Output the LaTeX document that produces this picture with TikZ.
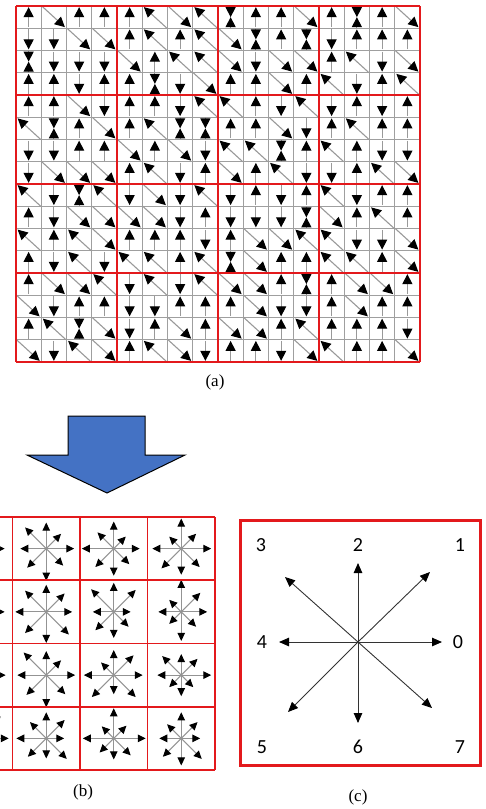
\documentclass[tikz,border=0pt]{standalone}
\usepackage{fontspec}
\setmainfont{Liberation Serif}
\newfontfamily\digitfont{Carlito}
\usetikzlibrary{arrows.meta,positioning}
\definecolor{hogred}{HTML}{E3191C}
\definecolor{hogblue}{HTML}{4472C4}

\tikzset{
  grad/.style={draw=gray!80, line width=1.1pt, -{Triangle[length=10pt,width=10pt,color=black]}},
  bin/.style={draw=gray!85, line width=1pt, -{Triangle[length=8pt,width=7.5pt,color=black]}},
  dir/.style={draw=black!80, line width=0.9pt, -{Triangle[length=10pt,width=8.5pt,color=black]}},
  cellline/.style={draw=gray!75, line width=0.8pt},
  blockline/.style={draw=hogred, line width=1.6pt},
  caption/.style={font=\fontsize{17}{20}\selectfont},
  binlabel/.style={font=\digitfont\fontsize{20}{24}\selectfont},
}

\begin{document}
\begin{tikzpicture}[x=1pt,y=-1pt]
  \useasboundingbox (0,0) rectangle (486,809);

  % (a) gradients of the cells
  \foreach \i in {0,...,16}{
    \draw[cellline] ({16+25.25*\i},6) -- ({16+25.25*\i},362);
    \draw[cellline] (16,{6+22.25*\i}) -- (420,{6+22.25*\i});
  }
  \pgfmathsetseed{11}
  \foreach \i in {0,...,15}{
    \foreach \j in {0,...,15}{
      \pgfmathsetmacro{\cx}{16+25.25*(\i+0.5)}
      \pgfmathsetmacro{\cy}{6+22.25*(\j+0.5)}
      \pgfmathrandominteger{\k}{0}{9}
      \ifnum\k<3 \draw[grad] (\cx,\cy+10) -- (\cx,\cy-10);
      \else\ifnum\k<5 \draw[grad] (\cx,\cy-10) -- (\cx,\cy+10);
      \else\ifnum\k<7 \draw[grad] (\cx+12,\cy+11) -- (\cx-11,\cy-10);
      \else\ifnum\k<9 \draw[grad] (\cx-12,\cy-11) -- (\cx+11,\cy+10);
      \else
        \draw[grad] (\cx,\cy-11) -- (\cx,\cy);
        \draw[grad] (\cx,\cy+11) -- (\cx,\cy);
      \fi\fi\fi\fi
    }
  }
  \foreach \i in {0,...,4}{
    \draw[blockline] ({16+101*\i},6) -- ({16+101*\i},362);
    \draw[blockline] (16,{6+89*\i}) -- (420,{6+89*\i});
  }
  \node[caption] (capa) at (215,382) {(a)};

  % big arrow
  \draw[fill=hogblue, line width=1pt] (68,416) -- (145,416) -- (145,455) -- (185,455)
    -- (107,493) -- (27,455) -- (68,455) -- cycle;

  % (b) histograms
  \begin{scope}
    \clip (0,505) rectangle (216.5,780);
    \pgfmathsetseed{5}
    \foreach \i in {-1,...,2}{
      \foreach \j in {0,...,3}{
        \pgfmathsetmacro{\cx}{12.5+67.5*(\i+0.5)}
        \pgfmathsetmacro{\cy}{517+63.25*(\j+0.5)}
        \foreach \a in {0,45,...,315}{
          \pgfmathrandominteger{\L}{17}{32}
          \draw[bin] (\cx,\cy) -- ++(\a:\L);
        }
      }
    }
    \foreach \i in {-1,...,3}
      \draw[blockline] ({12.5+67.5*\i},517) -- ({12.5+67.5*\i},770);
    \foreach \j in {0,...,4}
      \draw[blockline] (-60,{517+63.25*\j}) -- (215,{517+63.25*\j});
  \end{scope}
  \node[caption] (capb) at (83,792) {(b)};

  % (c) the eight bins
  \draw[draw=hogred, line width=3pt] (240,520) rectangle (480,765);
  \coordinate (o) at (358,642);
  \coordinate (t0) at (442,642);
  \coordinate (t1) at (430,572);
  \coordinate (t2) at (358,563);
  \coordinate (t3) at (285,577);
  \coordinate (t4) at (279,642);
  \coordinate (t5) at (288,712);
  \coordinate (t6) at (358,723);
  \coordinate (t7) at (432,708);
  \foreach \n in {0,...,7}
    \draw[dir] (o) -- (t\n);
  \node[binlabel] (l0) at (458,642) {0};
  \node[binlabel] (l1) at (460,545) {1};
  \node[binlabel] (l2) at (358,545) {2};
  \node[binlabel] (l3) at (261,545) {3};
  \node[binlabel] (l4) at (262,642) {4};
  \node[binlabel] (l5) at (262,747) {5};
  \node[binlabel] (l6) at (358,747) {6};
  \node[binlabel] (l7) at (460,747) {7};
  \node[caption] (capc) at (358,797) {(c)};
\end{tikzpicture}
\end{document}
